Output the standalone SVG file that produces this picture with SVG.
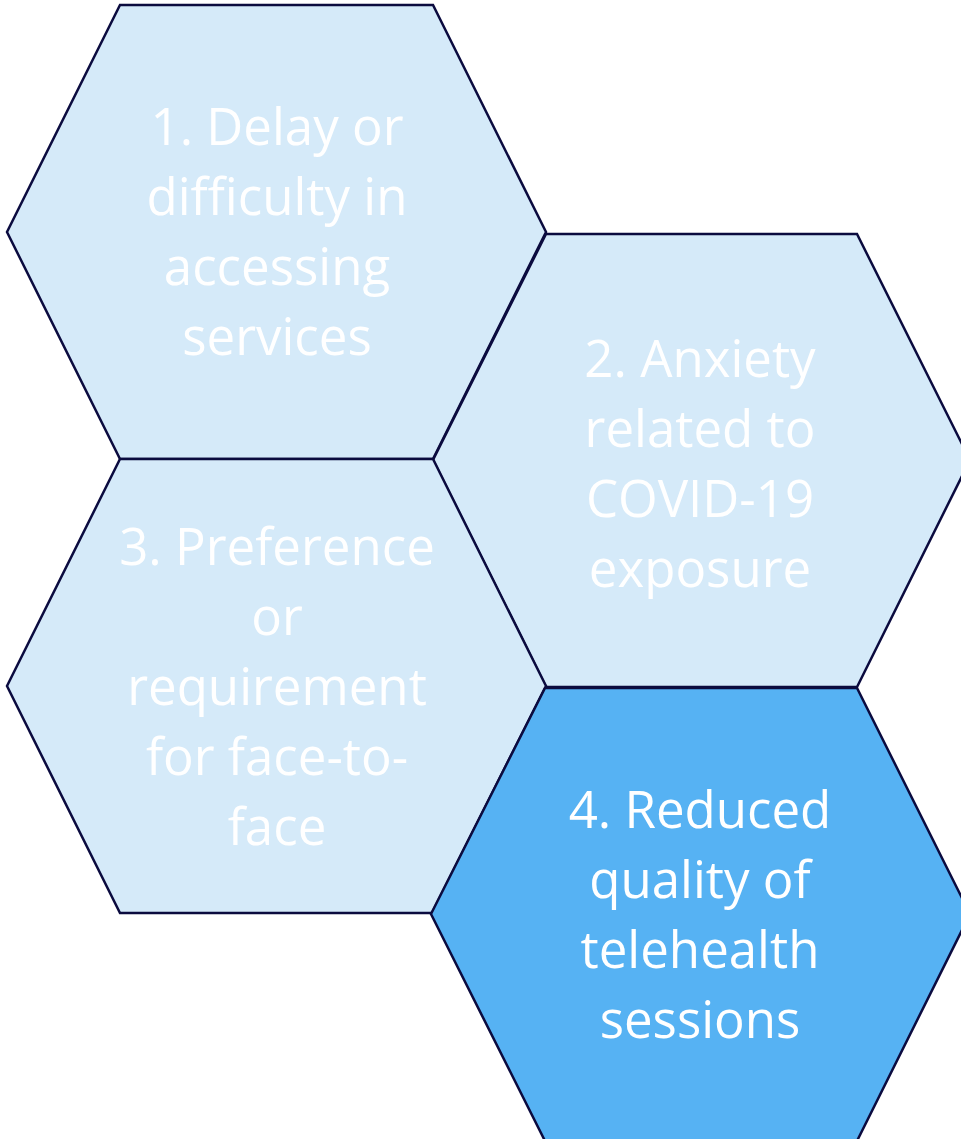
<svg xmlns="http://www.w3.org/2000/svg" width="961" height="1139" viewBox="0 0 961 1139">
  <style>
    .hex { stroke: #0B0B3F; stroke-width: 2.5; stroke-linejoin: miter; }
    .light { fill: #D5EAF9; }
    .dark { fill: #56B2F3; }
    .label { font-family: "Open Sans", "Noto Sans", sans-serif; font-size: 51px; fill: #FFFFFF; text-anchor: middle; }
  </style>
  <rect width="961" height="1139" fill="#FFFFFF"/>

  <g id="hex-1">
    <polygon class="hex light" points="120,5 433,5 546,232 433,459 120,459 7,232"/>
    <text class="label" x="277" y="145">1. Delay or</text>
    <text class="label" x="277" y="215">difficulty in</text>
    <text class="label" x="277" y="285">accessing</text>
    <text class="label" x="277" y="355">services</text>
  </g>

  <g id="hex-2">
    <polygon class="hex light" points="546,234 857,234 970,460 857,687 546,687 433,460"/>
    <text class="label" x="700" y="377">2. Anxiety</text>
    <text class="label" x="700" y="447">related to</text>
    <text class="label" x="700" y="517">COVID-19</text>
    <text class="label" x="700" y="587">exposure</text>
  </g>

  <g id="hex-3">
    <polygon class="hex light" points="120,459 433,459 546,686 432,913 120,913 7,686"/>
    <text class="label" x="277" y="565">3. Preference</text>
    <text class="label" x="277" y="635">or</text>
    <text class="label" x="277" y="705">requirement</text>
    <text class="label" x="277" y="775">for face-to-</text>
    <text class="label" x="277" y="845">face</text>
  </g>

  <g id="hex-4">
    <polygon class="hex dark" points="545,688 857,688 970,914 857,1141 545,1141 431,914"/>
    <text class="label" x="700" y="828">4. Reduced</text>
    <text class="label" x="700" y="898">quality of</text>
    <text class="label" x="700" y="968">telehealth</text>
    <text class="label" x="700" y="1038">sessions</text>
  </g>

  <g id="connectors"/>
</svg>
